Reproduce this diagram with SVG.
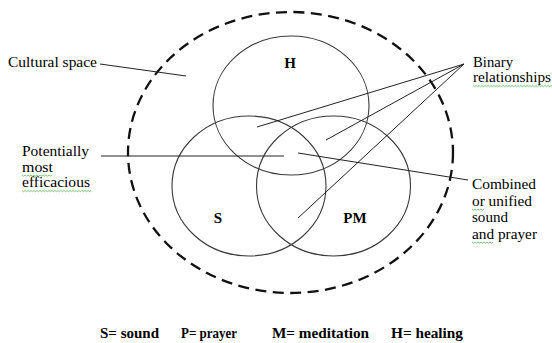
<svg xmlns="http://www.w3.org/2000/svg" width="552" height="343" viewBox="0 0 552 343">
<style>
.bg{fill:#ffffff}
.set{fill:none;stroke:#3a3a3a;stroke-width:1.1}
.space{fill:none;stroke:#111;stroke-width:2.3;stroke-dasharray:11 6.5}
.conn{fill:none;stroke:#222;stroke-width:1}
.lbl{font-size:15px;fill:#000}
.set-lbl{font-size:15px;font-weight:bold;fill:#000}
.legend{font-size:15px;font-weight:bold;fill:#000}
.spell{fill:none;stroke:#5cb85c;stroke-width:0.8}
</style>
<rect class="bg" x="0" y="0" width="552" height="343"/>
<g font-family="Liberation Serif, Times New Roman, serif">
<g id="cultural-space">
  <ellipse class="space" cx="290.5" cy="152.5" rx="162.5" ry="140.5"/>
</g>
<g id="set-H">
  <ellipse class="set" cx="291" cy="105.5" rx="78" ry="69.5"/>
  <text class="set-lbl" x="290" y="68" text-anchor="middle">H</text>
</g>
<g id="set-S">
  <ellipse class="set" cx="249" cy="186" rx="77" ry="70"/>
  <text class="set-lbl" x="218" y="223" text-anchor="middle">S</text>
</g>
<g id="set-PM">
  <ellipse class="set" cx="333.5" cy="186" rx="77" ry="70"/>
  <text class="set-lbl" x="355" y="223" text-anchor="middle">PM</text>
</g>
<g id="connectors">
  <line class="conn" x1="100" y1="64" x2="186" y2="76"/>
  <line class="conn" x1="101" y1="156" x2="284" y2="156"/>
  <line class="conn" x1="298" y1="153" x2="468" y2="180"/>
  <line class="conn" x1="464" y1="64" x2="257" y2="127"/>
  <line class="conn" x1="464" y1="64" x2="326" y2="140"/>
  <line class="conn" x1="464" y1="64" x2="298" y2="218"/>
</g>
<g id="label-cultural-space">
  <text class="lbl" x="8" y="67" textLength="89" lengthAdjust="spacingAndGlyphs">Cultural space</text>
</g>
<g id="label-efficacious">
  <text class="lbl" x="22" y="156" textLength="67" lengthAdjust="spacingAndGlyphs">Potentially</text>
  <text class="lbl" x="22" y="172" textLength="31" lengthAdjust="spacingAndGlyphs">most</text>
  <text class="lbl" x="22" y="187" textLength="68" lengthAdjust="spacingAndGlyphs">efficacious</text>
  <path class="spell" d="M22 175 l1.5 1.2 l1.5 -1.2 l1.5 1.2 l1.5 -1.2 l1.5 1.2 l1.5 -1.2 l1.5 1.2 l1.5 -1.2 l1.5 1.2 l1.5 -1.2 l1.5 1.2 l1.5 -1.2 l1.5 1.2 l1.5 -1.2 l1.5 1.2 l1.5 -1.2 l1.5 1.2 l1.5 -1.2 l1.5 1.2 l1.5 -1.2"/>
  <path class="spell" d="M22 190.5 l1.5 1.2 l1.5 -1.2 l1.5 1.2 l1.5 -1.2 l1.5 1.2 l1.5 -1.2 l1.5 1.2 l1.5 -1.2 l1.5 1.2 l1.5 -1.2 l1.5 1.2 l1.5 -1.2 l1.5 1.2 l1.5 -1.2 l1.5 1.2 l1.5 -1.2 l1.5 1.2 l1.5 -1.2 l1.5 1.2 l1.5 -1.2 l1.5 1.2 l1.5 -1.2 l1.5 1.2 l1.5 -1.2 l1.5 1.2 l1.5 -1.2 l1.5 1.2 l1.5 -1.2 l1.5 1.2 l1.5 -1.2 l1.5 1.2 l1.5 -1.2 l1.5 1.2 l1.5 -1.2 l1.5 1.2 l1.5 -1.2 l1.5 1.2 l1.5 -1.2 l1.5 1.2 l1.5 -1.2 l1.5 1.2 l1.5 -1.2 l1.5 1.2 l1.5 -1.2 l1.5 1.2 l1.5 -1.2"/>
</g>
<g id="label-binary">
  <text class="lbl" x="473" y="67" textLength="40" lengthAdjust="spacingAndGlyphs">Binary</text>
  <text class="lbl" x="473" y="82" textLength="78" lengthAdjust="spacingAndGlyphs">relationships</text>
  <path class="spell" d="M473 85.5 l1.5 1.2 l1.5 -1.2 l1.5 1.2 l1.5 -1.2 l1.5 1.2 l1.5 -1.2 l1.5 1.2 l1.5 -1.2 l1.5 1.2 l1.5 -1.2 l1.5 1.2 l1.5 -1.2 l1.5 1.2 l1.5 -1.2 l1.5 1.2 l1.5 -1.2 l1.5 1.2 l1.5 -1.2 l1.5 1.2 l1.5 -1.2 l1.5 1.2 l1.5 -1.2 l1.5 1.2 l1.5 -1.2 l1.5 1.2 l1.5 -1.2 l1.5 1.2 l1.5 -1.2 l1.5 1.2 l1.5 -1.2 l1.5 1.2 l1.5 -1.2 l1.5 1.2 l1.5 -1.2 l1.5 1.2 l1.5 -1.2 l1.5 1.2 l1.5 -1.2 l1.5 1.2 l1.5 -1.2 l1.5 1.2 l1.5 -1.2 l1.5 1.2 l1.5 -1.2 l1.5 1.2 l1.5 -1.2 l1.5 1.2 l1.5 -1.2 l1.5 1.2 l1.5 -1.2 l1.5 1.2 l1.5 -1.2 l1.5 1.2 l1.5 -1.2"/>
</g>
<g id="label-combined">
  <text class="lbl" x="472" y="189" textLength="64" lengthAdjust="spacingAndGlyphs">Combined</text>
  <text class="lbl" x="472" y="206" textLength="60" lengthAdjust="spacingAndGlyphs">or unified</text>
  <text class="lbl" x="472" y="222" textLength="36" lengthAdjust="spacingAndGlyphs">sound</text>
  <text class="lbl" x="472" y="239" textLength="65" lengthAdjust="spacingAndGlyphs">and prayer</text>
  <path class="spell" d="M472 209 l1.5 1.2 l1.5 -1.2 l1.5 1.2 l1.5 -1.2 l1.5 1.2 l1.5 -1.2 l1.5 1.2 l1.5 -1.2"/>
  <path class="spell" d="M472 242 l1.5 1.2 l1.5 -1.2 l1.5 1.2 l1.5 -1.2 l1.5 1.2 l1.5 -1.2 l1.5 1.2 l1.5 -1.2 l1.5 1.2 l1.5 -1.2 l1.5 1.2 l1.5 -1.2 l1.5 1.2 l1.5 -1.2"/>
</g>
<g id="legend">
  <text class="legend" x="100" y="338" textLength="59" lengthAdjust="spacingAndGlyphs">S= sound</text>
  <text class="legend" x="181" y="338" textLength="56" lengthAdjust="spacingAndGlyphs">P= prayer</text>
  <text class="legend" x="272" y="338" textLength="97" lengthAdjust="spacingAndGlyphs">M= meditation</text>
  <text class="legend" x="391" y="338" textLength="72" lengthAdjust="spacingAndGlyphs">H= healing</text>
</g>
</g>
</svg>
